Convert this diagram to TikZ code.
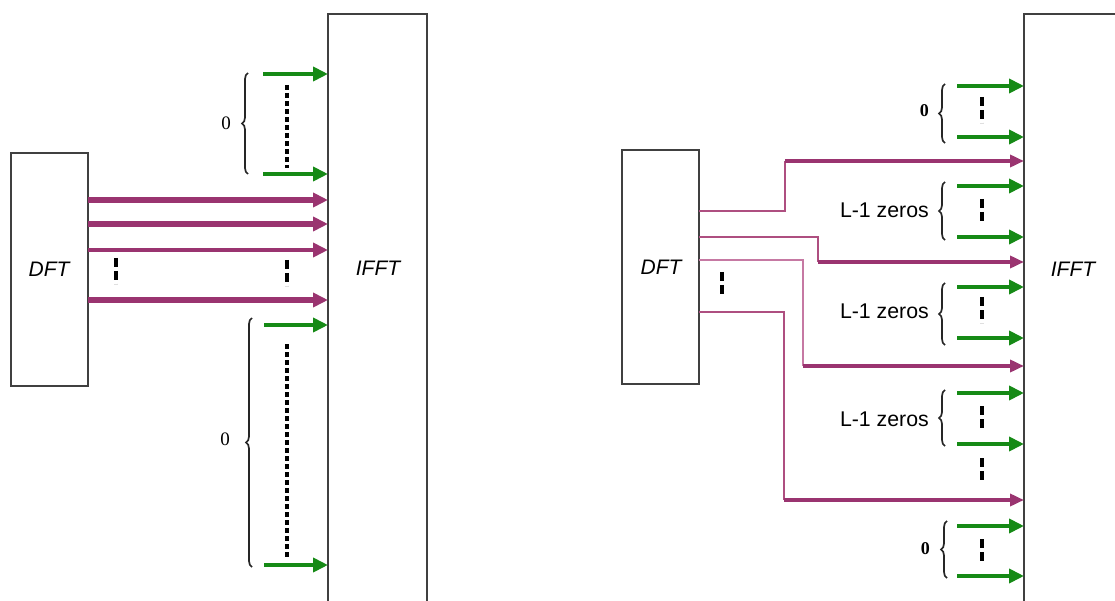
\documentclass[tikz,border=0pt]{standalone}
\usepackage{fontspec}
\setmainfont{Liberation Serif}
\setsansfont{Liberation Sans}
\usetikzlibrary{arrows.meta,decorations.pathreplacing}
\definecolor{plum}{HTML}{9A3470}
\definecolor{plumthin}{HTML}{AE4F80}
\definecolor{plumlight}{HTML}{C679A3}
\definecolor{padgreen}{HTML}{168A16}

\begin{document}
\begin{tikzpicture}[x=1pt,y=-1pt,
  block/.style={draw=black!75, line width=2.2pt, fill=white, inner sep=0pt, outer sep=0pt},
  zeroarrow/.style={draw=padgreen, line width=4.2pt, -{Triangle[length=15pt,width=14pt]}},
  dataarrow/.style={draw=plum, line width=5pt, -{Triangle[length=15pt,width=14pt]}},
  route/.style={draw=plumthin, line width=2.3pt},
  feed/.style={draw=plum, line width=3.6pt, -{Triangle[length=14pt,width=12pt]}},
  gap/.style={draw=black, line width=4.2pt, dash pattern=on 9pt off 4pt},
  longgap/.style={draw=black, line width=4.2pt, dash pattern=on 5pt off 3pt},
  curly/.style={draw=black!85, line width=1.7pt, decorate, decoration={brace, amplitude=6pt}},
  blocktext/.style={font=\sffamily\itshape\fontsize{21}{24}\selectfont, inner sep=0pt},
  zerotext/.style={font=\fontsize{19}{20}\selectfont, anchor=east, inner sep=0pt},
  grouptext/.style={font=\sffamily\fontsize{21.3}{24}\selectfont, anchor=east, inner sep=0pt}]

\useasboundingbox (0,0) rectangle (1115,601);
\clip (0,0) rectangle (1115,601);

% ---------------- left: contiguous mapping ----------------
\node[block, minimum width=77pt, minimum height=233pt] (dftL) at (49.5,269.5) {};
\node[blocktext] (dftLtext) at (49,269) {DFT};
\node[block, minimum width=99pt, minimum height=640pt] (ifftL) at (377.5,334) {};
\node[blocktext] (ifftLtext) at (378,268) {IFFT};

% zero inputs above the data
\coordinate (zA1) at (263,74);
\coordinate (zA2) at (263,174);
\draw[zeroarrow] (zA1) -- (zA1 -| ifftL.west);
\draw[zeroarrow] (zA2) -- (zA2 -| ifftL.west);
\draw[longgap] (287,85) -- (287,168);
\draw[curly] (248,174) -- (248,73);
\node[zerotext] (lA) at (231,123) {0};

% data carriers
\draw[dataarrow, line width=5.5pt] (dftL.east |- 0,200) -- (ifftL.west |- 0,200);
\draw[dataarrow, line width=5.5pt] (dftL.east |- 0,224) -- (ifftL.west |- 0,224);
\draw[dataarrow, line width=4.2pt] (dftL.east |- 0,250) -- (ifftL.west |- 0,250);
\draw[dataarrow] (dftL.east |- 0,300) -- (ifftL.west |- 0,300);
\draw[gap] (116,258) -- (116,284);
\draw[gap] (287,260) -- (287,286);

% zero inputs below the data
\coordinate (zB1) at (264,325);
\coordinate (zB2) at (264,565);
\draw[zeroarrow] (zB1) -- (zB1 -| ifftL.west);
\draw[zeroarrow] (zB2) -- (zB2 -| ifftL.west);
\draw[longgap] (287,344) -- (287,557);
\draw[curly] (252,567) -- (252,318);
\node[zerotext] (lB) at (230,439) {0};

% ---------------- right: distributed mapping ----------------
\node[block, minimum width=77pt, minimum height=234pt] (dftR) at (660.5,267) {};
\node[blocktext] (dftRtext) at (661,267) {DFT};
\node[block, minimum width=100pt, minimum height=640pt] (ifftR) at (1074,334) {};
\node[blocktext] (ifftRtext) at (1073,269) {IFFT};

% green zero inputs
\foreach \y [count=\i] in {86,137,186,237,287,338,393,444,526,576}{
  \coordinate (zR\i) at (957,\y);
  \draw[zeroarrow] (zR\i) -- (zR\i -| ifftR.west);
}

% braces and labels for the zero groups
\draw[curly] (945,143) -- (945,84);
\node[zerotext, font=\bfseries\fontsize{18}{20}\selectfont] (lR1) at (929,111) {0};
\draw[curly] (945,240) -- (945,182);
\node[grouptext] (lR2) at (929,210) {L-1 zeros};
\draw[curly] (945,345) -- (945,283);
\node[grouptext] (lR3) at (929,311) {L-1 zeros};
\draw[curly] (945,446) -- (945,390);
\node[grouptext] (lR4) at (929,419) {L-1 zeros};
\draw[curly] (947,578) -- (947,521);
\node[zerotext, font=\bfseries\fontsize{18}{20}\selectfont] (lR5) at (930,549) {0};

% gap marks between the zero inputs
\draw[gap] (982,97) -- (982,123);
\draw[gap] (982,199) -- (982,224);
\draw[gap] (982,297) -- (982,323);
\draw[gap] (982,406) -- (982,430);
\draw[gap] (982,458) -- (982,483);
\draw[gap] (982,539) -- (982,564);
\draw[gap, line width=3.5pt] (722,272) -- (722,296);

% data carriers routed onto every L-th subcarrier
\coordinate (t1) at (785,161);
\coordinate (t2) at (818,262);
\coordinate (t3) at (803,366);
\coordinate (t4) at (784,500);
\draw[route] (dftR.east |- 0,211) -| (t1);
\draw[feed] (t1) -- (t1 -| ifftR.west);
\draw[route] (dftR.east |- 0,237) -| (t2);
\draw[feed] (t2) -- (t2 -| ifftR.west);
\draw[route, draw=plumlight] (dftR.east |- 0,260) -| (t3);
\draw[feed] (t3) -- (t3 -| ifftR.west);
\draw[route] (dftR.east |- 0,312) -| (t4);
\draw[feed] (t4) -- (t4 -| ifftR.west);
\end{tikzpicture}
\end{document}
